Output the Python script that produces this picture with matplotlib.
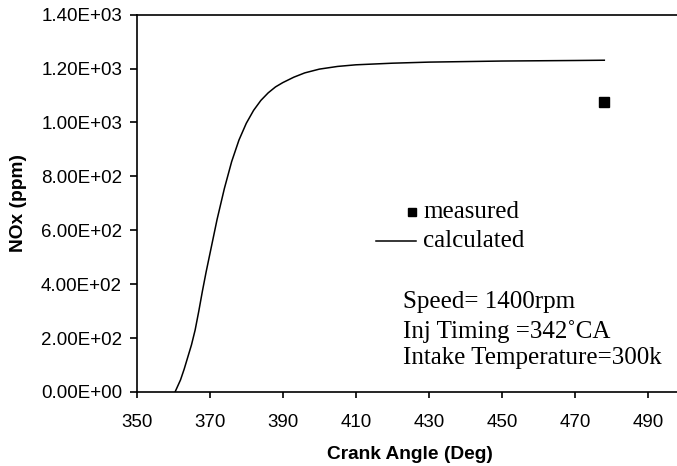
import matplotlib
matplotlib.use("Agg")
import matplotlib.pyplot as plt
from matplotlib.lines import Line2D

# calculated NOx history vs crank angle
crank_angle = [360.5, 362, 363, 364, 365, 366, 367, 368, 369, 370, 372, 374, 376, 378, 380,
               382, 384, 386, 388, 390, 393, 396, 400, 405, 410, 420, 430, 440, 450, 460, 470, 478]
nox_calc = [0, 45, 85, 130, 175, 230, 300, 375, 445, 510, 640, 755, 855, 935, 997,
            1045, 1082, 1110, 1132, 1148, 1168, 1184, 1198, 1208, 1214, 1220, 1224, 1226, 1228, 1229, 1230, 1231]

# measured exhaust NOx
meas_angle = [478]
meas_nox = [1075]

x_ticks = [350, 370, 390, 410, 430, 450, 470, 490]
y_ticks = [0, 200, 400, 600, 800, 1000, 1200, 1400]
y_tick_labels = ['0.00E+00', '2.00E+02', '4.00E+02', '6.00E+02',
                 '8.00E+02', '1.00E+03', '1.20E+03', '1.40E+03']
notes = ["Speed= 1400rpm", "Inj Timing =342\u02daCA", "Intake Temperature=300k"]

fig = plt.figure(figsize=(6.77, 4.66), dpi=100)
ax = fig.add_axes([0.2019, 0.1588, 0.7981, 0.8097])

ax.plot(crank_angle, nox_calc, color='black', linewidth=1.1)
ax.plot(meas_angle, meas_nox, 's', color='black', markersize=7)

ax.set_xlim(350, 497.9)
ax.set_ylim(0, 1400)
ax.set_xticks(x_ticks)
ax.set_yticks(y_ticks)
ax.set_yticklabels(y_tick_labels)

for s in ['left', 'bottom', 'top']:
    ax.spines[s].set_linewidth(1.2)
ax.spines['right'].set_visible(False)

ax.tick_params(axis='y', direction='out', length=5, width=1.2, pad=5.5,
               labelsize=13.5, labelfontfamily='Liberation Sans', colors='black')
ax.tick_params(axis='x', direction='out', length=4, width=1.2, pad=12,
               labelsize=13.5, labelfontfamily='Liberation Sans', colors='black')

ax.set_xlabel('Crank Angle (Deg)', fontsize=13.8, fontweight='bold', family='Liberation Sans')
ax.xaxis.set_label_coords(0.506, -0.143)
ax.set_ylabel('NOx (ppm)', fontsize=13.8, fontweight='bold', family='Liberation Sans')
ax.yaxis.set_label_coords(-0.203, 0.5)

# legend drawn by hand
serif = 'Liberation Serif'
ax.add_line(Line2D([0.509], [0.476], marker='s', color='black', markersize=6,
                   transform=ax.transAxes))
ax.text(0.530, 0.476, 'measured', transform=ax.transAxes, fontsize=18,
        family=serif, va='center')
ax.add_line(Line2D([0.443, 0.517], [0.401, 0.401], color='black', linewidth=1.1,
                   transform=ax.transAxes))
ax.text(0.530, 0.401, 'calculated', transform=ax.transAxes, fontsize=18,
        family=serif, va='center')

for y, t in zip([0.239, 0.160, 0.090], notes):
    ax.text(0.4934, y, t, transform=ax.transAxes, fontsize=18, family=serif, va='center')

fig.savefig('out.png', dpi=100)
